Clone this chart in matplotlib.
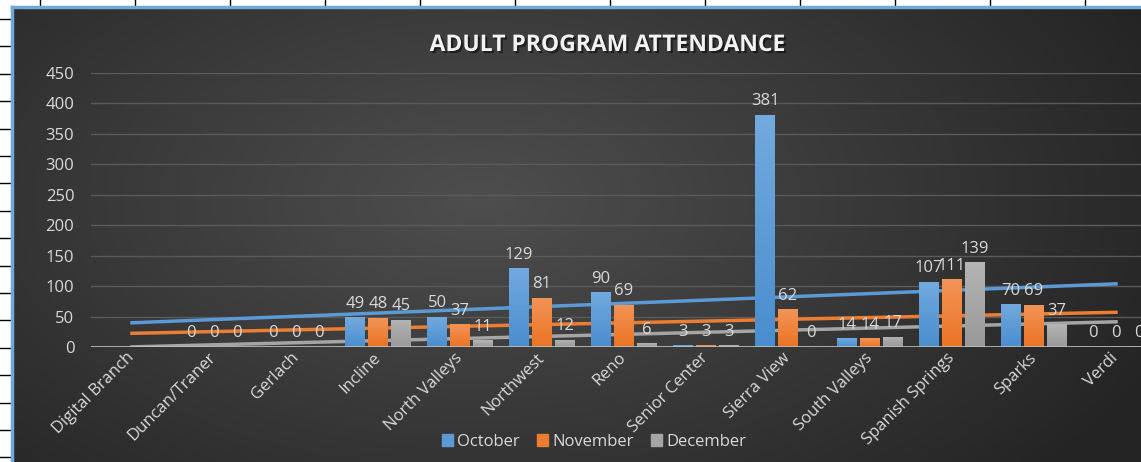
import numpy as np
import matplotlib
matplotlib.use('Agg')
import matplotlib.pyplot as plt
import matplotlib.patheffects as pe
from matplotlib.colors import to_rgb

branches = ['Digital Branch', 'Duncan/Traner', 'Gerlach', 'Incline', 'North Valleys',
            'Northwest', 'Reno', 'Senior Center', 'Sierra View', 'South Valleys',
            'Spanish Springs', 'Sparks', 'Verdi']
october = [np.nan, 0, 0, 49, 50, 129, 90, 3, 381, 14, 107, 70, 0]
november = [np.nan, 0, 0, 48, 37, 81, 69, 3, 62, 14, 111, 69, 0]
december = [np.nan, 0, 0, 45, 11, 12, 6, 3, 0, 17, 139, 37, 0]
months = ['October', 'November', 'December']
colors = ['#5B9BD5', '#ED7D31', '#A5A5A5']
tops = ['#72AADF', '#F39457', '#B4B4B4']
bottoms = ['#4A8DCE', '#EA7424', '#999999']
yticks = list(range(0, 451, 50))

plt.rcParams['font.family'] = ['Open Sans', 'DejaVu Sans']
W, H = 1141, 462
fig = plt.figure(figsize=(W / 100, H / 100), dpi=100)
fig.patch.set_facecolor('white')

# spreadsheet grid behind the chart
sheet = fig.add_axes([0, 0, 1, 1])
sheet.set_xlim(0, W)
sheet.set_ylim(H, 0)
sheet.axis('off')
for x in np.arange(40, W, 95):
    sheet.plot([x, x], [0, 7], color='black', lw=1)
for y in np.arange(19, H, 27.4):
    sheet.plot([0, 12], [y, y], color='black', lw=1)

# chart area with radial gradient
bg = fig.add_axes([12 / W, 0, 1 - 12 / W, 1 - 7 / H])
gx, gy = np.meshgrid(np.linspace(12, W, 400), np.linspace(7, H, 200))
r = np.sqrt(((gx - 480) / 750) ** 2 + ((gy - 200) / 420) ** 2)
r = np.clip(r, 0, 1)
c0, c1 = np.array([0x4e, 0x4e, 0x4e]) / 255, np.array([0x24, 0x24, 0x24]) / 255
img = c0[None, None, :] * (1 - r[..., None]) + c1[None, None, :] * r[..., None]
bg.imshow(img, extent=[12, W, H, 7], aspect='auto')
bg.set_xticks([])
bg.set_yticks([])
for s in ['bottom', 'right']:
    bg.spines[s].set_visible(False)
for s in ['left', 'top']:
    bg.spines[s].set_color('#6FA8DC')
    bg.spines[s].set_linewidth(2.5)

# plot area
ax = fig.add_axes([91 / W, (H - 347) / H, 13 * 82 / W, 274 / H])
ax.set_facecolor('none')
x = np.arange(len(branches))
series = [october, november, december]
offsets = [-0.28, 0, 0.28]
for vals, off, col, top, bot, name in zip(series, offsets, colors, tops, bottoms, months):
    v = np.array(vals, dtype=float)
    bars = ax.bar(x + off, v, width=0.24, color=col, label=name, zorder=2)
    grad = np.linspace(0, 1, 64)[:, None, None]
    gimg = np.array(to_rgb(top))[None, None, :] * (1 - grad) + np.array(to_rgb(bot))[None, None, :] * grad
    for p in bars:
        h = p.get_height()
        if np.isnan(h) or h <= 0:
            continue
        im = ax.imshow(gimg, extent=[p.get_x(), p.get_x() + p.get_width(), 0, h],
                       aspect='auto', zorder=2.1, origin='upper')
        im.set_clip_path(p)
    for xi, vi in zip(x, v):
        if not np.isnan(vi):
            ax.annotate(f'{int(vi)}', (xi + off, vi), xytext=(0, 4), textcoords='offset points',
                        ha='center', va='bottom', color='#D9D9D9', fontsize=12, zorder=4)
    # linear trendline, blanks ignored
    ok = ~np.isnan(v)
    k, b = np.polyfit(x[ok] + 1, v[ok], 1)
    ax.plot(x, k * (x + 1) + b, color=col, lw=2.5, zorder=1.5)

ax.set_xlim(-0.5, len(branches) - 0.5)
ax.set_ylim(0, 450)
ax.set_yticks(yticks)
ax.yaxis.grid(True, color='#5a5a5a', lw=1, zorder=0)
ax.set_axisbelow(True)
ax.axhline(0, color='#BFBFBF', lw=1.2, zorder=3)
for s in ax.spines.values():
    s.set_visible(False)
ax.tick_params(axis='y', length=0, pad=12, labelcolor='#D9D9D9', labelsize=12)
ax.tick_params(axis='x', length=0, pad=6, labelcolor='#D9D9D9', labelsize=12)
ax.set_xticks(x)
ax.set_xticklabels(branches, rotation=45, ha='right', va='center', rotation_mode='anchor')
for t in ax.get_xticklabels():
    t.set_clip_on(False)

fig.text(607 / W, 1 - 45 / H, 'ADULT PROGRAM ATTENDANCE', ha='center', va='center',
         fontsize=16.5, fontweight='bold', color='#F2F2F2',
         path_effects=[pe.withSimplePatchShadow(offset=(1.5, -1.5), shadow_rgbFace='black', alpha=0.5)])

handles = [plt.Rectangle((0, 0), 1, 1, color=c) for c in colors]
leg = fig.legend(handles, months, loc='center', bbox_to_anchor=(594 / W, 1 - 442 / H), ncol=3,
                 frameon=False, fontsize=12, handlelength=0.7, handleheight=0.7,
                 handletextpad=0.25, columnspacing=1.0, labelcolor='#D9D9D9')

fig.savefig('out.png', dpi=100, facecolor=fig.get_facecolor())
